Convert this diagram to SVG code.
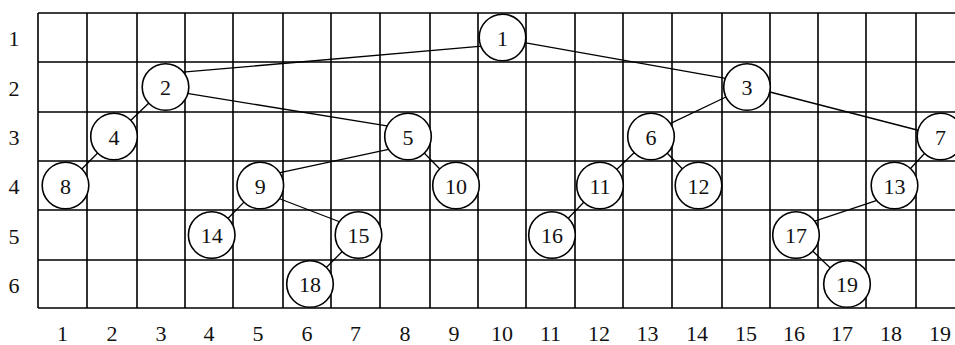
<svg xmlns="http://www.w3.org/2000/svg" width="955" height="345" viewBox="0 0 955 345">
<style>
.g{stroke:#000;stroke-width:1.6;fill:none}
.e{stroke:#000;stroke-width:1.3;fill:none}
.n circle{fill:#fff;stroke:#000;stroke-width:1.6}
.n text,.lbl{font-family:"Liberation Serif","Times New Roman",serif;font-size:22px;fill:#111;text-anchor:middle}
</style>
<rect width="955" height="345" fill="#fff"/>
<g id="grid" class="g">
<path d="M38 13H955M38 62H955M38 112H955M38 161H955M38 210H955M38 260H955M38 308H955"/>
<path d="M38 13V308M87 13V308M137 13V308M185 13V308M233 13V308M283 13V308M331 13V308M380 13V308M430 13V308M478 13V308M526 13V308M575 13V308M623 13V308M672 13V308M722 13V308M770 13V308M818 13V308M866 13V308M916 13V308"/>
</g>
<g id="labels" class="lbl">
<text x="14" y="46">1</text><text x="14" y="96">2</text><text x="14" y="145">3</text><text x="14" y="194">4</text><text x="14" y="244">5</text><text x="14" y="293">6</text>
<text x="62.5" y="341">1</text><text x="112" y="341">2</text><text x="161" y="341">3</text><text x="209" y="341">4</text><text x="258" y="341">5</text><text x="307" y="341">6</text><text x="355.5" y="341">7</text><text x="405" y="341">8</text><text x="454" y="341">9</text><text x="502" y="341">10</text><text x="550.5" y="341">11</text><text x="599" y="341">12</text><text x="647.5" y="341">13</text><text x="697" y="341">14</text><text x="746" y="341">15</text><text x="794" y="341">16</text><text x="842" y="341">17</text><text x="891" y="341">18</text><text x="940" y="341">19</text>
</g>
<g id="connectors" class="e">
<line x1="180" y1="72.4" x2="482" y2="46.2"/>
<line x1="523" y1="42.3" x2="727" y2="78.7"/>
<line x1="184" y1="92.8" x2="390" y2="126.4"/>
<line x1="668" y1="124.6" x2="727" y2="96.5"/>
<line x1="766" y1="91" x2="921" y2="131"/>
<line x1="279" y1="172.9" x2="392" y2="148.6"/>
<line x1="279" y1="198.5" x2="344" y2="223.5"/>
<line x1="877" y1="200.4" x2="814" y2="221.3"/>
<line x1="165.5" y1="87" x2="114" y2="136.5"/>
<line x1="114" y1="136.5" x2="65.5" y2="185.5"/>
<line x1="408" y1="136.5" x2="456" y2="185.5"/>
<line x1="260.3" y1="185.5" x2="211.7" y2="235"/>
<line x1="358.5" y1="235" x2="310" y2="284"/>
<line x1="651" y1="136.5" x2="600" y2="185.5"/>
<line x1="651" y1="136.5" x2="698.5" y2="185.5"/>
<line x1="600" y1="185.5" x2="552" y2="235"/>
<line x1="940.5" y1="136.5" x2="894.5" y2="185.5"/>
<line x1="796" y1="235" x2="847" y2="284"/>
</g>
<g id="n1" class="n"><circle cx="502.5" cy="37.5" r="23.3"/><text x="502.5" y="45.5">1</text></g>
<g id="n2" class="n"><circle cx="165.5" cy="87" r="23.3"/><text x="165.5" y="95">2</text></g>
<g id="n3" class="n"><circle cx="747" cy="87" r="23.3"/><text x="747" y="95">3</text></g>
<g id="n4" class="n"><circle cx="114" cy="136.5" r="23.3"/><text x="114" y="144.5">4</text></g>
<g id="n5" class="n"><circle cx="408" cy="136.5" r="23.3"/><text x="408" y="144.5">5</text></g>
<g id="n6" class="n"><circle cx="651" cy="136.5" r="23.3"/><text x="651" y="144.5">6</text></g>
<g id="n7" class="n"><circle cx="940.5" cy="136.5" r="23.3"/><text x="940.5" y="144.5">7</text></g>
<g id="n8" class="n"><circle cx="65.5" cy="185.5" r="23.3"/><text x="65.5" y="193.5">8</text></g>
<g id="n9" class="n"><circle cx="260.3" cy="185.5" r="23.3"/><text x="260.3" y="193.5">9</text></g>
<g id="n10" class="n"><circle cx="456" cy="185.5" r="23.3"/><text x="456" y="193.5">10</text></g>
<g id="n11" class="n"><circle cx="600" cy="185.5" r="23.3"/><text x="600" y="193.5">11</text></g>
<g id="n12" class="n"><circle cx="698.5" cy="185.5" r="23.3"/><text x="698.5" y="193.5">12</text></g>
<g id="n13" class="n"><circle cx="894.5" cy="185.5" r="23.3"/><text x="894.5" y="193.5">13</text></g>
<g id="n14" class="n"><circle cx="211.7" cy="235" r="23.3"/><text x="211.7" y="243">14</text></g>
<g id="n15" class="n"><circle cx="358.5" cy="235" r="23.3"/><text x="358.5" y="243">15</text></g>
<g id="n16" class="n"><circle cx="552" cy="235" r="23.3"/><text x="552" y="243">16</text></g>
<g id="n17" class="n"><circle cx="796" cy="235" r="23.3"/><text x="796" y="243">17</text></g>
<g id="n18" class="n"><circle cx="310" cy="284" r="23.3"/><text x="310" y="292">18</text></g>
<g id="n19" class="n"><circle cx="847" cy="284" r="23.3"/><text x="847" y="292">19</text></g>
</svg>
